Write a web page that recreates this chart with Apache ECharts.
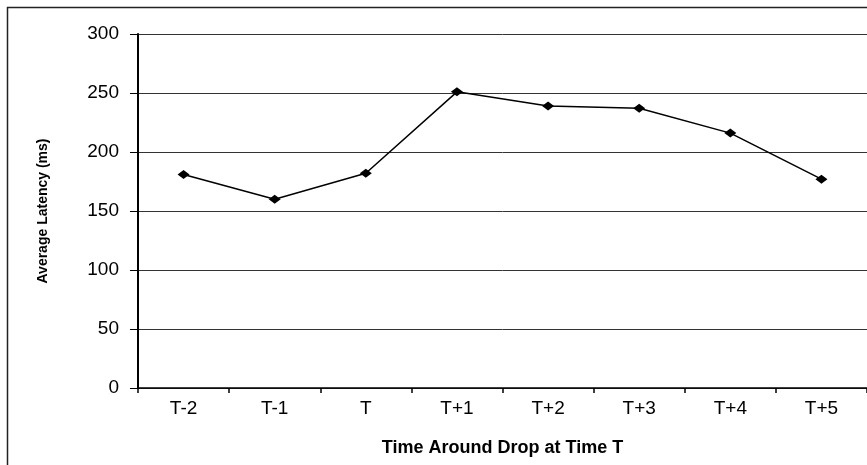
<!DOCTYPE html>
<html>
<head>
<meta charset="utf-8">
<script src="https://cdn.jsdelivr.net/npm/echarts@6/dist/echarts.min.js"></script>
<style>
html,body{margin:0;padding:0;background:#fff;}
#chart{width:867px;height:465px;}
</style>
</head>
<body>
<div id="chart"></div>
<script>
const categories = ['T-2','T-1','T','T+1','T+2','T+3','T+4','T+5'];
const latency = [181,160,182,251,239,237,216,177];
const yTicks = [0,50,100,150,200,250,300];

const chart = echarts.init(document.getElementById('chart'), null, {renderer:'canvas'});
const font = 'Liberation Sans, Arial, sans-serif';
chart.setOption({
  animation:false,
  backgroundColor:'#fff',
  graphic:[{
    type:'rect', silent:true, z:-1,
    shape:{x:7.5,y:7.5,width:900,height:500},
    style:{fill:'none',stroke:'#222',lineWidth:1.5}
  }],
  grid:{left:138, top:34, width:736, height:354, containLabel:false},
  xAxis:{
    type:'category', data:categories, boundaryGap:true,
    name:'Time Around Drop at Time T', nameLocation:'middle', nameGap:51,
    nameTextStyle:{fontFamily:font, fontSize:18, fontWeight:'bold', color:'#000'},
    axisLine:{lineStyle:{color:'#000', width:1.5}},
    axisTick:{show:true, length:5, lineStyle:{color:'#000', width:1.5}},
    axisLabel:{fontFamily:font, fontSize:19, color:'#000', margin:11},
    splitLine:{show:false}
  },
  yAxis:{
    type:'value', min:0, max:300, interval:50,
    name:'Average Latency (ms)', nameLocation:'middle', nameGap:88, nameRotate:90,
    nameTextStyle:{fontFamily:font, fontSize:14, fontWeight:'bold', color:'#000'},
    axisLine:{show:true, lineStyle:{color:'#000', width:2}},
    axisTick:{show:true, length:8, lineStyle:{color:'#000', width:1}},
    axisLabel:{fontFamily:font, fontSize:19, color:'#000', margin:19,
      formatter:function(v){return yTicks.indexOf(v)>=0 ? String(v) : '';}},
    splitLine:{show:true, lineStyle:{color:'#333', width:1}}
  },
  series:[{
    type:'line', data:latency,
    symbol:'diamond', symbolSize:[12,9],
    itemStyle:{color:'#000'},
    lineStyle:{color:'#000', width:1.5}
  }]
});
</script>
</body>
</html>
